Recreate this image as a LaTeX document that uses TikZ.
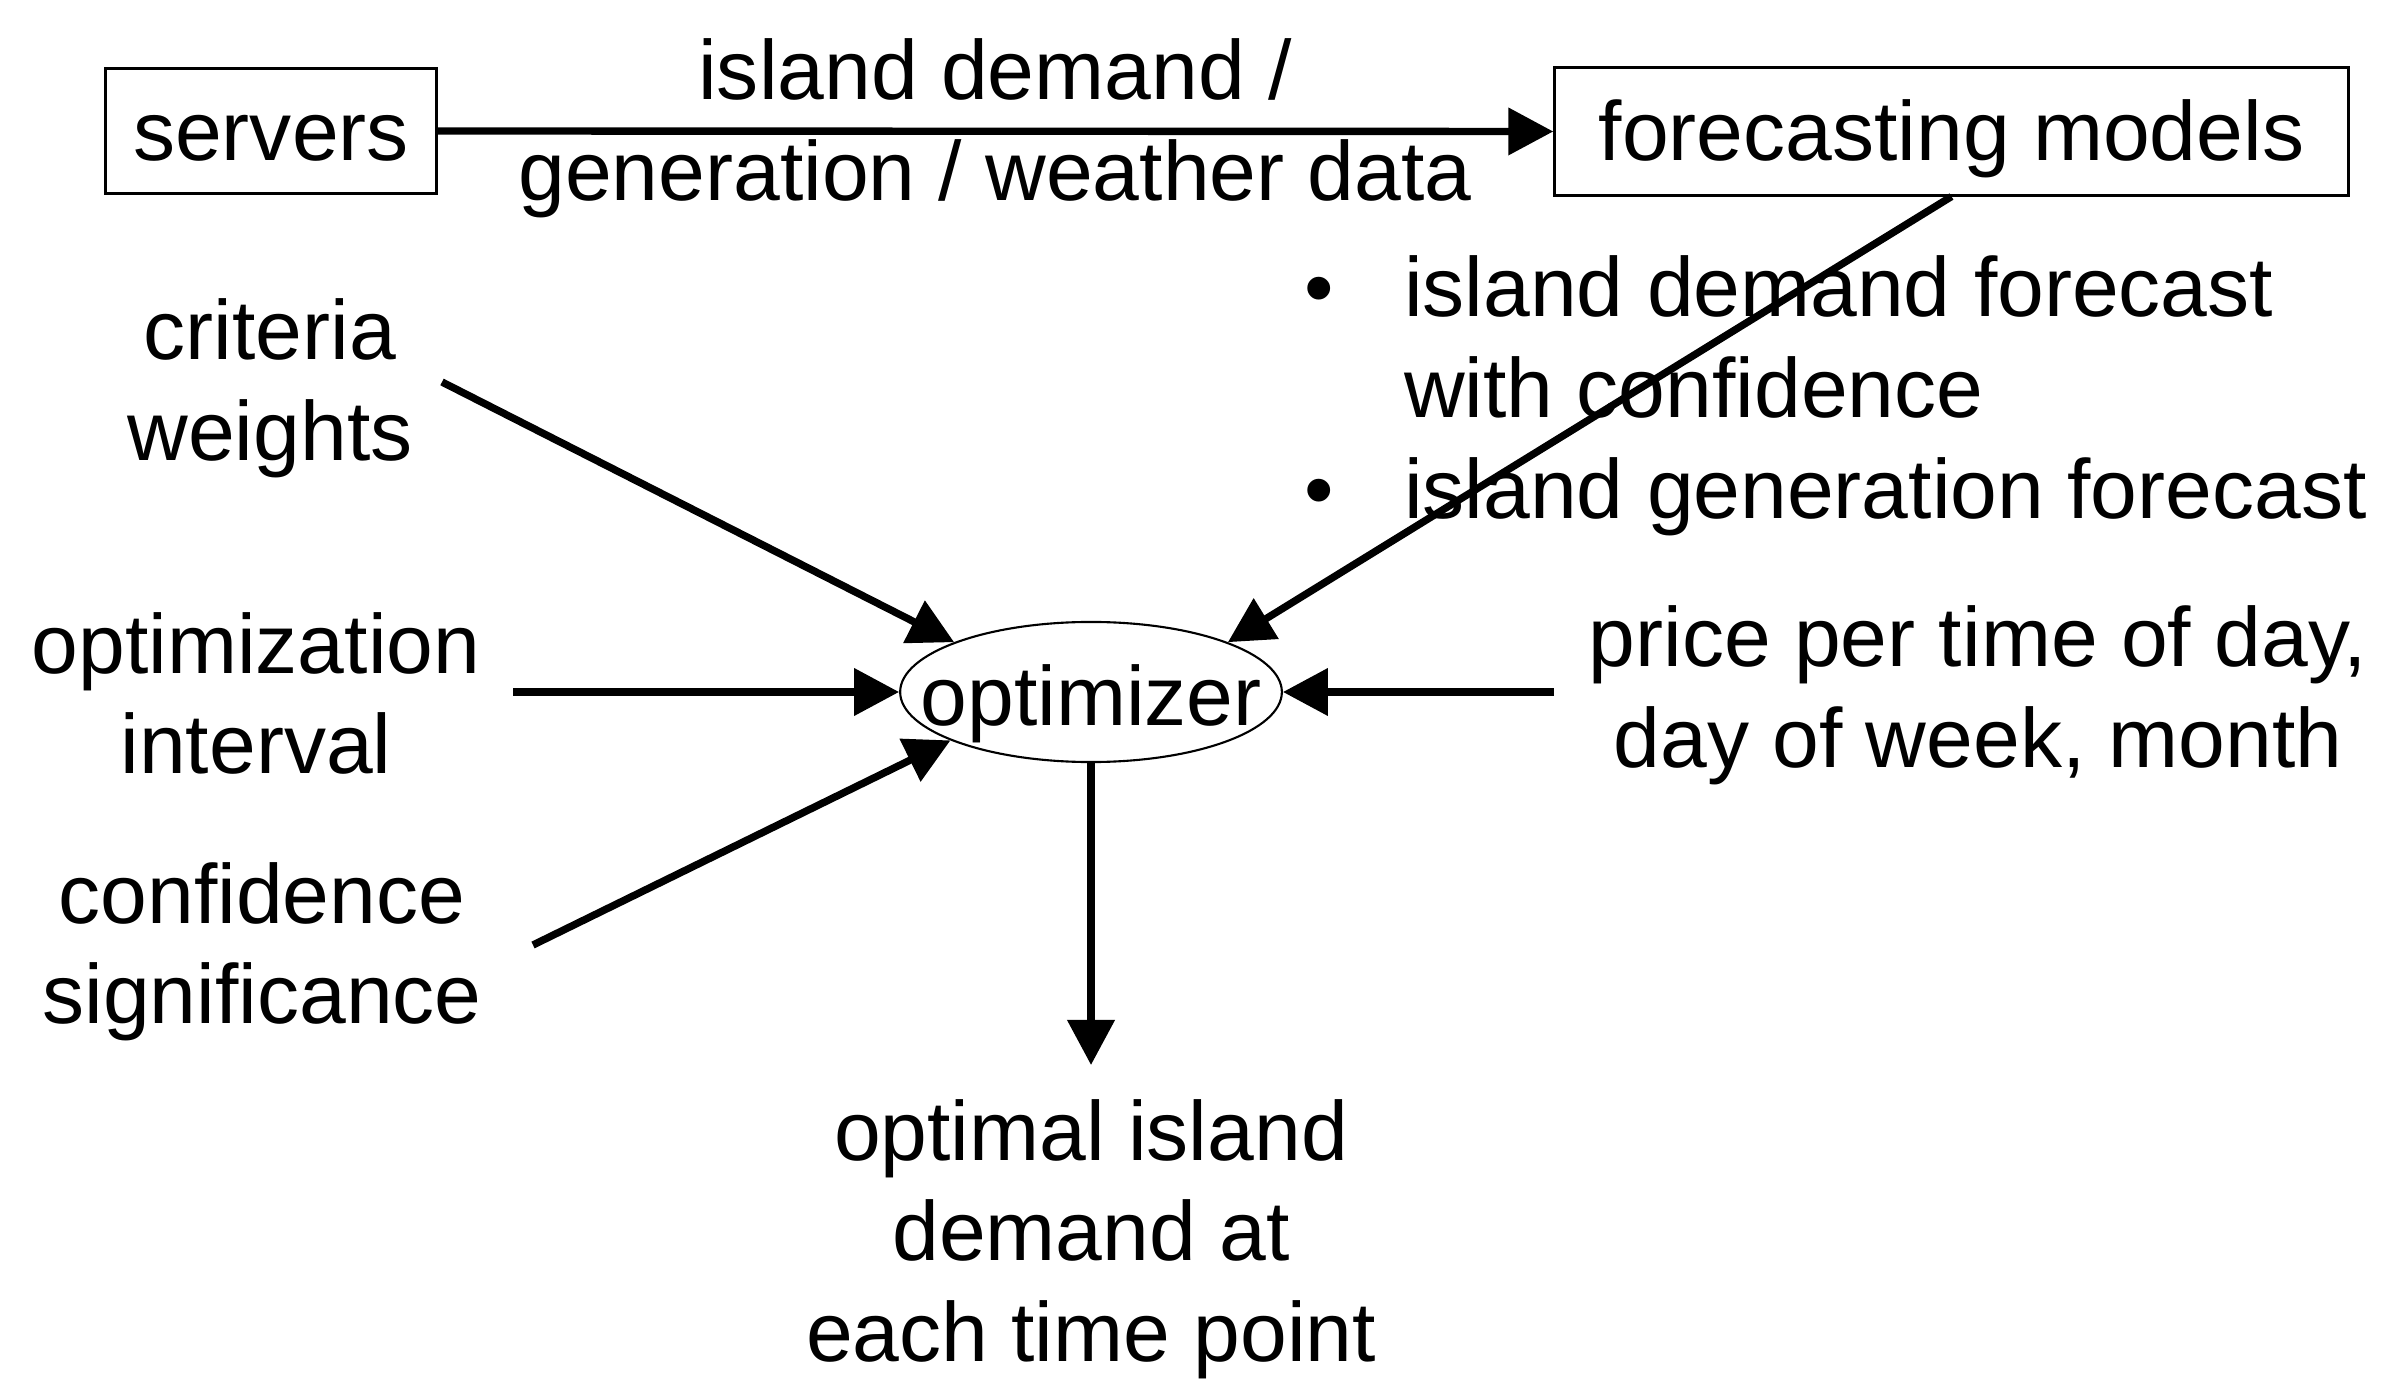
\documentclass[tikz,border=0pt]{standalone}
\usepackage{fontspec}
\setmainfont{Liberation Sans}
\usetikzlibrary{arrows.meta,shapes.geometric}
\newcommand\mlines[2][c]{\begin{tabular}[t]{@{}#1@{}}#2\end{tabular}}
\begin{document}
\begin{tikzpicture}[x=0.01cm,y=-0.01cm,
  fnt/.style={font=\fontsize{23.9pt}{28.7pt}\selectfont},
  txt/.style={fnt,inner sep=0pt,anchor=base},
  box/.style={fnt,draw,line width=0.85pt,inner sep=0pt,text height=0.76cm,text depth=0.18cm},
  oval/.style={fnt,draw,ellipse,line width=0.6pt,inner xsep=-0.355cm,inner ysep=-0.015cm,
    text height=0.84cm,text depth=0.18cm},
  arr/.style={line width=2.1pt,-{Triangle[length=0.45cm,width=0.46cm]}}]
\useasboundingbox (0,0) rectangle (2401,1389);
\fill[white] (0,0) rectangle (2401,1389);

\node[box,minimum width=3.30cm,minimum height=1.25cm] (srv) at (271,131) {servers};
\node[box,minimum width=7.93cm,minimum height=1.27cm] (fc) at (1951.5,131.5) {forecasting models};
\node[oval] (opt) at (1091,692) {optimizer};

\node[txt] (lbl) at (995,100) {\mlines{island demand /\\generation / weather data}};
\node[txt] (crit) at (270,360) {\mlines{criteria\\weights}};
\node[txt] (oint) at (256,673) {\mlines{optimization\\interval}};
\node[txt] (conf) at (262,923) {\mlines{confidence\\significance}};
\node[txt,anchor=base west] (fcout) at (1304,317)
  {\begin{tabular}[t]{@{}l@{\hspace{0.70cm}}l@{}}•&island demand forecast\\&with confidence\\•&island generation forecast\end{tabular}};
\node[txt] (price) at (1978,667) {\mlines{price per time of day,\\day of week, month}};
\node[txt] (out) at (1091,1160) {\mlines{optimal island\\demand at\\each time point}};

\coordinate (critE) at (442,382);
\coordinate (ointE) at (513,692);
\coordinate (confE) at (533,945);
\coordinate (priceW) at (1554,692);
\coordinate (outN) at (1091,1065);

\draw[arr] (srv.east) -- (fc.west);
\draw[arr] (critE) -- (opt.160.6);
\draw[arr] (ointE) -- (opt.west);
\draw[arr] (confE) -- (opt.199.4);
\draw[arr] (fc.south) -- (opt.20);
\draw[arr] (priceW) -- (opt.east);
\draw[arr] (opt.south) -- (outN);
\end{tikzpicture}
\end{document}
